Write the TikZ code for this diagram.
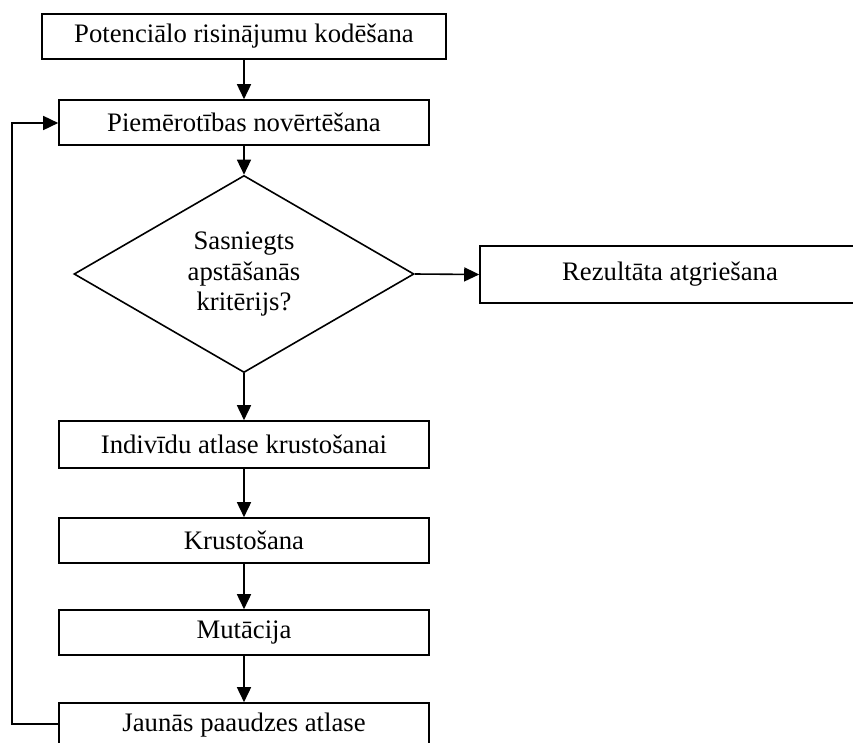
\documentclass[tikz,border=0pt]{standalone}
\usepackage{fontspec}
\setmainfont{Liberation Serif}
\usetikzlibrary{arrows.meta,shapes.geometric}

\begin{document}
\begin{tikzpicture}[x=1pt,y=-1pt,
  every node/.style={font=\fontsize{26.7}{30.5}\selectfont, line width=1.6pt, inner sep=0pt},
  stepbox/.style={draw, rectangle, minimum width=370pt, minimum height=45pt},
  decision/.style={draw, diamond, minimum width=340pt, minimum height=194pt, align=center},
  flow/.style={line width=1.6pt, -{Triangle[length=15pt,width=14pt]}}
]
\useasboundingbox (0,0) rectangle (853,742);
\clip (0,0) rectangle (853,742);

\node[stepbox, minimum width=404pt] (enc) at (244,36.5) {Potenciālo risinājumu kodēšana};
\node[stepbox] (fit) at (244,122.5) {Piemērotības novērtēšana};
\node[decision] (stop) at (244,274) {Sasniegts\\apstāšanās\\kritērijs?};
\node[stepbox, minimum width=380pt, minimum height=57pt] (res) at (670,274.5) {Rezultāta atgriešana};
\node[stepbox, minimum height=47pt] (sel) at (244,444.5) {Indivīdu atlase krustošanai};
\node[stepbox] (cross) at (244,540.5) {Krustošana};
\node[stepbox] (mut) at (244,632.5) {Mutācija};
\node[stepbox] (gen) at (244,725.5) {Jaunās paaudzes atlase};

\coordinate (lb) at (12,724);
\coordinate (lt) at (12,123);

\draw[flow] (enc) -- (fit);
\draw[flow] (fit) -- (stop);
\draw[flow] (stop.east) -- (res.west);
\draw[flow] (stop) -- (sel);
\draw[flow] (sel) -- (cross);
\draw[flow] (cross) -- (mut);
\draw[flow] (mut) -- (gen);
\draw[flow] (gen.west |- lb) -- (lb) -- (lt) -- (fit.west |- lt);
\end{tikzpicture}
\end{document}
